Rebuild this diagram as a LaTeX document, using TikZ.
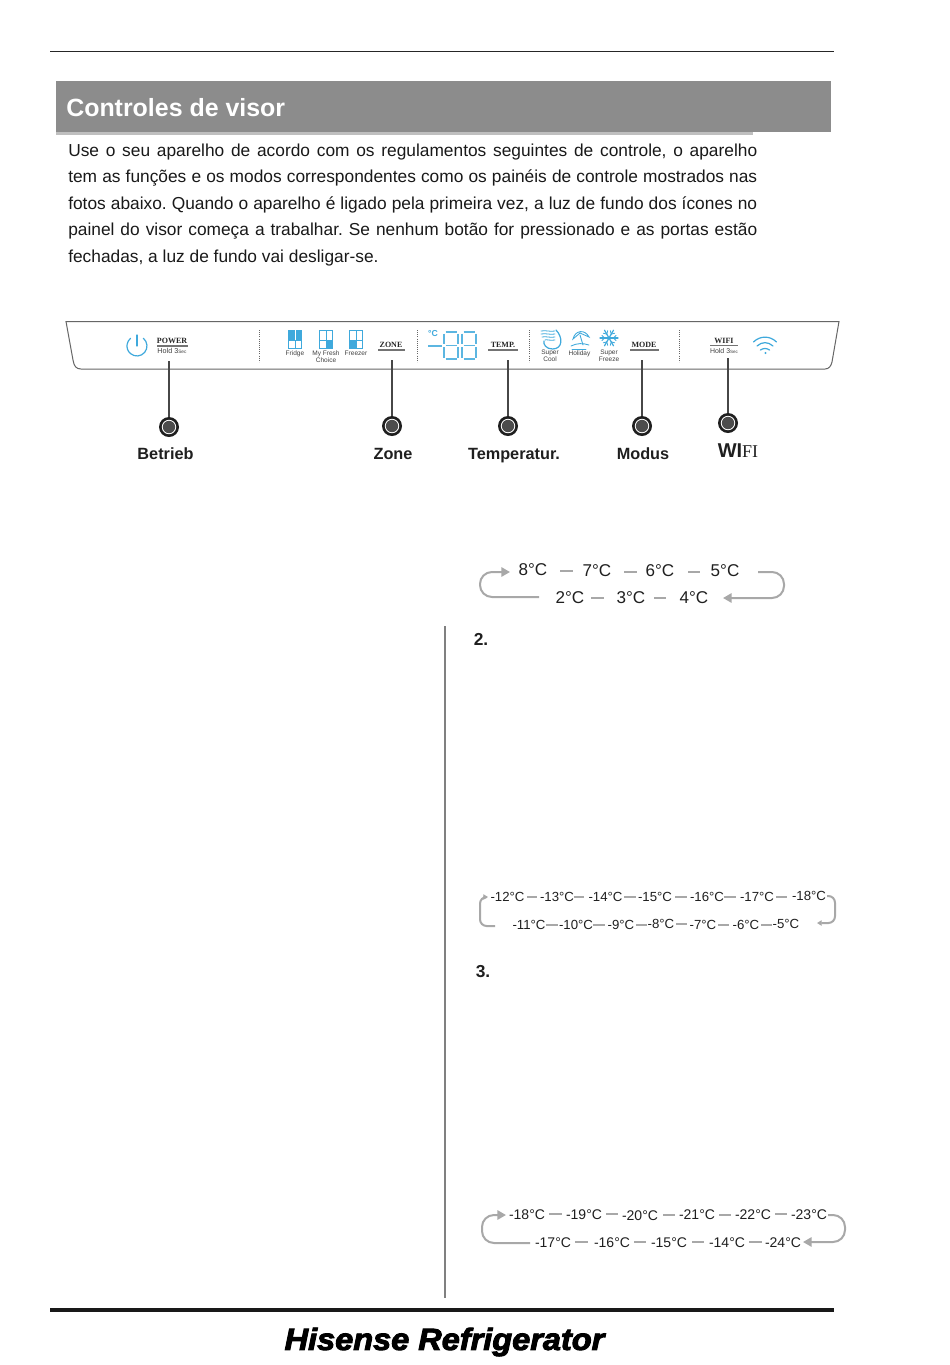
\documentclass[tikz,border=0pt]{standalone}
\usepackage{fontspec}
\setmainfont{Liberation Sans}
\newfontfamily\serifpart{Liberation Serif}
\newfontfamily\logofont[FakeBold=3]{Liberation Sans}
\usetikzlibrary{arrows.meta}
\definecolor{panelblue}{HTML}{3FA9DC}
\definecolor{seqgray}{HTML}{A8A8A8}
\definecolor{headgray}{HTML}{8C8C8C}
\tikzset{
  bodyline/.style={anchor=base west,inner sep=0pt,font=\frenchspacing\fontsize{13pt}{15pt}\selectfont,text=black!90},
  keylabel/.style={anchor=base,inner sep=0pt,font=\fontsize{12.2pt}{14pt}\selectfont\bfseries,text=black!88},
  tinylabel/.style={inner sep=0pt,align=center,font=\fontsize{4.9pt}{4.2pt}\selectfont,text=black!75},
  keyname/.style={inner sep=0pt,font=\fontsize{6pt}{7pt}\selectfont\bfseries\serifpart,text=black!85},
  keyrule/.style={draw=black!55,line width=0.8pt},
  leader/.style={draw=black!72,line width=1.5pt},
  dotnode/.style={circle,fill=black!88,minimum size=15pt,inner sep=0pt},
  sepline/.style={draw=black!60,line width=0.6pt,densely dotted},
  fridgeicon/.style={draw=panelblue,line width=0.6pt},
  blueicon/.style={draw=panelblue,line width=0.9pt,line cap=round},
  seg/.style={draw=panelblue!85,line width=1.3pt},
  seqA/.style={inner sep=0pt,text height=8pt,text depth=0pt,font=\fontsize{12.8pt}{14pt}\selectfont,text=black!88},
  seqB/.style={inner sep=0pt,text height=7pt,text depth=0pt,font=\fontsize{9.9pt}{11pt}\selectfont,text=black!88},
  seqC/.style={inner sep=0pt,text height=7.5pt,text depth=0pt,font=\fontsize{10.5pt}{12pt}\selectfont,text=black!88},
  seqdash/.style={draw=seqgray,line width=1.5pt},
  seqloop/.style={draw=seqgray,line width=1.5pt,rounded corners=9pt},
  seqarrow/.style={seqloop,-{Triangle[length=6.5pt,width=7pt]}},
  seqarrowsmall/.style={seqloop,rounded corners=5pt,-{Triangle[length=3.5pt,width=4pt]}},
  stepnum/.style={inner sep=0pt,font=\fontsize{13pt}{15pt}\selectfont\bfseries,text=black!88},
}
\newcommand{\digiteight}[4]{% x, y-top, w, h
  \draw[seg] (#1+1.5,#2) -- ++(#3-3,0);
  \draw[seg] (#1+1.5,#2+#4/2) -- ++(#3-3,0);
  \draw[seg] (#1+1.5,#2+#4) -- ++(#3-3,0);
  \draw[seg] (#1,#2+1.5) -- ++(0,#4/2-3);
  \draw[seg] (#1,#2+#4/2+1.5) -- ++(0,#4/2-3);
  \draw[seg] (#1+#3,#2+1.5) -- ++(0,#4/2-3);
  \draw[seg] (#1+#3,#2+#4/2+1.5) -- ++(0,#4/2-3);
}
\newcommand{\fridgebox}[2]{%
  \draw[fridgeicon] (#1-6.5,#2) rectangle (#1+6.5,#2+18);
  \draw[fridgeicon] (#1,#2) -- (#1,#2+18);
  \draw[fridgeicon] (#1-6.5,#2+10) -- (#1+6.5,#2+10);
}
\begin{document}
\begin{tikzpicture}[x=0.75pt,y=-0.75pt]
\useasboundingbox (0,0) rectangle (950,1365);
\fill[white] (0,0) rectangle (950,1365);

% top rule and header
\coordinate (topL) at (50,51); \coordinate (topR) at (834,51);
\draw[black!85,line width=0.6pt] (topL) -- (topR);
\fill[black!25] (56,130) rectangle (753,134.5);
\fill[headgray] (56,81) rectangle (831,132);
\node[anchor=base west,inner sep=0pt,text=white,font=\fontsize{18.7pt}{20pt}\selectfont\bfseries] (title) at (66,116) {Controles de visor};

% body text
\node[bodyline] (l1) at (68,156) {\hbox to 516.75pt{Use o seu aparelho de acordo com os regulamentos seguintes de controle, o aparelho}};
\node[bodyline] (l2) at (68,182.5) {\hbox to 516.75pt{tem as funções e os modos correspondentes como os painéis de controle mostrados nas}};
\node[bodyline] (l3) at (68,209) {\hbox to 516.75pt{fotos abaixo. Quando o aparelho é ligado pela primeira vez, a luz de fundo dos ícones no}};
\node[bodyline] (l4) at (68,235.5) {\hbox to 516.75pt{painel do visor começa a trabalhar. Se nenhum botão for pressionado e as portas estão}};
\node[bodyline] (l5) at (68,262) {fechadas, a luz de fundo vai desligar-se.};

% panel outline
\draw[black!60,line width=0.75pt] (66,321.5) -- (73,360) .. controls (74,366) and (76,369) .. (81,369) -- (825,369) .. controls (829,369) and (831,366) .. (832,362) -- (839,321.5) -- cycle;

% separators
\foreach \sx in {259,417,529,679} \draw[sepline] (\sx,330) -- (\sx,362);

% power group
\draw[blueicon] (143.4,338.3) arc[start angle=-50,end angle=230,radius=10];
\draw[blueicon] (137,335) -- (137,346);
\node[keyname] (pw) at (172,341) {POWER};
\draw[keyrule] (157,346) -- (188,346);
\node[tinylabel,font=\fontsize{5.4pt}{6pt}\selectfont] (pwh) at (172,351) {Hold 3{\fontsize{3.6pt}{4pt}\selectfont Sec}};

% fridge icons
\fill[panelblue] (288.5,330) rectangle (301.5,340);
\fridgebox{295}{330}
\draw[white,line width=0.5pt] (295,330) -- (295,340);
\fill[panelblue] (326,340) rectangle (332.5,348);
\fridgebox{326}{330}
\fill[panelblue] (349.5,340) rectangle (356,348);
\fridgebox{356}{330}
\node[tinylabel] (fr) at (295,353.5) {Fridge};
\node[tinylabel] (mf) at (326,356.5) {My Fresh\\Choice};
\node[tinylabel] (fz) at (356,353.5) {Freezer};
\node[keyname] (zn) at (391,345) {ZONE};
\draw[keyrule] (378,350) -- (405,350);

% display
\node[inner sep=0pt,text=panelblue,font=\fontsize{6.5pt}{7pt}\selectfont\bfseries] (deg) at (433,334) {°C};
\draw[seg,line width=1.8pt] (428,346) -- (442,346);
\digiteight{444}{332}{14}{27}
\digiteight{462}{332}{14}{27}
\node[keyname] (tp) at (503,345) {TEMP.};
\draw[keyrule] (488,350) -- (518,350);

% super cool icon
\draw[blueicon] (556,330) .. controls (563,337) and (563,349) .. (552.5,349) .. controls (546,349) and (543,344) .. (544,341);
\foreach \yy/\xa in {331/541,334/541,337/542,340/545} \draw[blueicon,line width=0.6pt] (\xa,\yy) .. controls (546,\yy-1) and (550,\yy+1) .. (555,\yy);
\node[tinylabel] (sc) at (550,356) {Super\\Cool};
% holiday icon
\draw[blueicon,line width=0.65pt] (573,339) .. controls (575,330) and (585,329) .. (589,337) -- (580,333) -- cycle;
\draw[blueicon,line width=0.65pt] (580,335) -- (583,345);
\draw[blueicon,line width=0.65pt] (571,346) .. controls (577,343) and (583,343) .. (589,345);
\draw[blueicon,line width=0.65pt] (572,349) -- (586,349);
\node[tinylabel] (hd) at (579.5,353.5) {Holiday};
% snowflake icon
\foreach \ang in {0,60,120} {
  \draw[blueicon,rotate around={\ang:(609,338)}] (600,338) -- (618,338);
  \draw[blueicon,line width=0.65pt,rotate around={\ang:(609,338)}] (602,335.5) -- (604.5,338) -- (602,340.5);
  \draw[blueicon,line width=0.65pt,rotate around={\ang:(609,338)}] (616,335.5) -- (613.5,338) -- (616,340.5);
}
\node[tinylabel] (sf) at (609,356) {Super\\Freeze};
\node[keyname] (md) at (644,345) {MODE};
\draw[keyrule] (630,350) -- (659,350);

% wifi group
\node[keyname] (wf) at (724,341) {WIFI};
\draw[keyrule] (710,345.5) -- (738,345.5);
\node[tinylabel,font=\fontsize{5.2pt}{6pt}\selectfont] (wfh) at (724,351) {Hold 3{\fontsize{3.4pt}{4pt}\selectfont Sec}};
\draw[blueicon] (753.5,342) .. controls (760,335.5) and (770,335.5) .. (776.5,342);
\draw[blueicon] (757,346) .. controls (762,341.5) and (768,341.5) .. (773,346);
\draw[blueicon] (760.5,350) .. controls (763,348) and (767,348) .. (769.5,350);
\fill[panelblue] (765.5,353) circle (1.2);

% leaders and dots
\node[dotnode] (dA) at (169,427) {};
\node[dotnode] (dB) at (392,426) {};
\node[dotnode] (dC) at (508,426) {};
\node[dotnode] (dD) at (642,426) {};
\node[dotnode] (dE) at (728,423) {};
\coordinate (sA) at (169,361);
\coordinate (sB) at (392,360);
\coordinate (sC) at (508,360);
\coordinate (sD) at (642,360);
\coordinate (sE) at (728,358);
\foreach \st/\dt in {sA/dA,sB/dB,sC/dC,sD/dD,sE/dE} {
  \draw[leader] (\st) -- (\dt);
  \fill[white] (\dt) circle (7.2);
  \fill[black!70] (\dt) circle (6.2);
}
\node[keylabel] (kA) at (165.5,459) {Betrieb};
\node[keylabel] (kB) at (393,459) {Zone};
\node[keylabel] (kC) at (514,459) {Temperatur.};
\node[keylabel] (kD) at (643,459) {Modus};
\node[inner sep=0pt,text=black!88] (kE) at (738,451) {\fontsize{15pt}{17pt}\selectfont\bfseries WI{\serifpart\mdseries\fontsize{13.5pt}{16pt}\selectfont FI}};

% sequence 1
\foreach \nm/\xx/\yy/\tx in {a1/533/570.5/8,a2/597/571.5/7,a3/660/571.5/6,a4/725/571.5/5,a5/694/598/4,a6/631/598/3,a7/570/598/2}
  \node[seqA] (\nm) at (\xx,\yy) {\tx°C};
\foreach \fr/\ga/\gb in {a1/560/573,a2/624/637,a3/688/700,a7/591/604,a6/654/666}
  \draw[seqdash] (\ga,0 |- \fr.center) -- (\gb,0 |- \fr.center);
\coordinate (a4e) at (758,572); \coordinate (a5e) at (723,598);
\coordinate (a7w) at (539,597); \coordinate (a1w) at (510,572);
\draw[seqarrow] (a4e) -- (784,572) -- (784,598) -- (a5e);
\draw[seqarrow] (a7w) -- (480,597) -- (480,572) -- (a1w);

\node[stepnum] (n2) at (481,639) {2.};

% sequence 2
\foreach \nm/\xx/\yy/\tx in {b1/507.5/897/12,b2/557/897/13,b3/605.5/897/14,b4/655/897/15,b5/707/897/16,b6/757/896.5/17,b7/809/896/18,
  c1/529/925/11,c2/576/925/10,c3/621/924.5/9,c4/661/924/8,c5/703/924.5/7,c6/746/924.5/6,c7/786/924/5}
  \node[seqB] (\nm) at (\xx,\yy) {-\tx°C};
\foreach \fr/\ga/\gb in {b1/527/537,b2/574/584,b3/624/636,b4/675/687,b5/724/736,b6/776/787,c1/546/558,c2/593/605,c3/636/647,c4/676/687,c5/718/729,c6/761/772}
  \draw[seqdash] (\ga,0 |- \fr.center) -- (\gb,0 |- \fr.center);
\coordinate (b7e) at (827,896); \coordinate (c7e) at (817,923);
\coordinate (c1w) at (495,926); \coordinate (b1w) at (488,897);
\draw[seqarrowsmall] (b7e) -- (835,896) -- (835,923) -- (c7e);
\draw[seqarrowsmall] (c1w) -- (480,926) -- (480,897) -- (b1w);

\node[stepnum] (n3) at (483,972) {3.};

% sequence 3
\foreach \nm/\xx/\yy/\tx in {d1/527/1214/18,d2/584/1214/19,d3/640/1215/20,d4/697/1214.5/21,d5/753/1214/22,d6/809/1214/23,
  e1/553/1242/17,e2/612/1242/16,e3/669/1242/15,e4/727/1242/14,e5/783/1242/24}
  \node[seqC] (\nm) at (\xx,\yy) {-\tx°C};
\foreach \fr/\ga/\gb in {d1/549/562,d2/606/618,d3/663/675,d4/719/731,d5/775/787,e1/575/588,e2/634/646,e3/692/704,e4/749/762}
  \draw[seqdash] (\ga,0 |- \fr.center) -- (\gb,0 |- \fr.center);
\coordinate (d6e) at (828,1215); \coordinate (e5e) at (803,1242);
\coordinate (e1w) at (530,1243); \coordinate (d1w) at (506,1215);
\draw[seqarrow] (d6e) -- (845,1215) -- (845,1242) -- (e5e);
\draw[seqarrow] (e1w) -- (482,1243) -- (482,1215) -- (d1w);

% column divider
\coordinate (divT) at (445,626); \coordinate (divB) at (445,1298);
\draw[black!50,line width=1.4pt] (divT) -- (divB);

% footer
\coordinate (botL) at (50,1310); \coordinate (botR) at (834,1310);
\draw[black!90,line width=2.6pt] (botL) -- (botR);
\node[inner sep=0pt,text=black] (logo) at (444.5,1342) {\scalebox{1.06}[1]{\logofont\fontsize{23pt}{25pt}\selectfont\bfseries\itshape Hisense Refrigerator}};
\end{tikzpicture}
\end{document}
